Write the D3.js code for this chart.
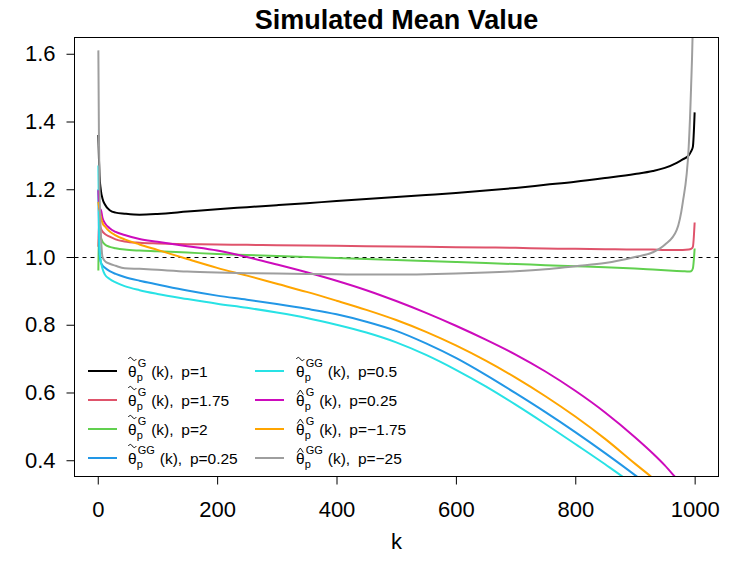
<!DOCTYPE html>
<html>
<head>
<meta charset="utf-8">
<script src="https://cdn.jsdelivr.net/npm/d3@7"></script>
<style>
  body { margin: 0; background: #fff; }
  svg { font-family: "Liberation Sans", Arial, sans-serif; }
</style>
</head>
<body>
<svg width="747" height="561"></svg>
<script>
var kGrid = [1, 2, 3, 5, 8, 12, 20, 30, 45, 70, 100, 150, 200, 250, 300, 350, 400, 450, 500,
  550, 600, 650, 700, 750, 800, 850, 900, 930, 950, 970, 980, 990, 994, 997, 1000];

// tilde G, p = 1
var tildeG_p1 = [1.36, 1.29, 1.24, 1.20, 1.172, 1.155, 1.138, 1.131, 1.128, 1.125, 1.127, 1.134, 1.141,
  1.147, 1.153, 1.159, 1.165, 1.171, 1.177, 1.183, 1.189, 1.196, 1.204, 1.213, 1.222, 1.233, 1.245,
  1.254, 1.263, 1.278, 1.288, 1.30, 1.312, 1.325, 1.427];
// tilde G, p = 1.75
var tildeG_p175 = [1.03, 1.10, 1.095, 1.085, 1.075, 1.068, 1.06, 1.052, 1.046, 1.042, 1.040, 1.038, 1.037,
  1.036, 1.035, 1.034, 1.033, 1.032, 1.031, 1.030, 1.029, 1.028, 1.027, 1.025, 1.024, 1.023, 1.022,
  1.022, 1.021, 1.021, 1.021, 1.022, 1.024, 1.03, 1.102];
// tilde G, p = 2
var tildeG_p2 = [0.96, 1.08, 1.07, 1.058, 1.045, 1.037, 1.03, 1.026, 1.022, 1.019, 1.017, 1.013, 1.009,
  1.006, 1.003, 1.000, 0.997, 0.994, 0.991, 0.988, 0.985, 0.982, 0.979, 0.976, 0.973, 0.970, 0.966,
  0.963, 0.961, 0.959, 0.958, 0.957, 0.958, 0.966, 1.025];
// tilde GG, p = 0.25
var tildeGG_p025 = [1.20, 1.06, 1.01, 0.985, 0.975, 0.968, 0.958, 0.95, 0.941, 0.93, 0.919, 0.901, 0.886,
  0.874, 0.861, 0.847, 0.831, 0.809, 0.782, 0.745, 0.702, 0.652, 0.598, 0.542, 0.483, 0.421, 0.356,
  0.315, 0.285, 0.255, 0.24, 0.225, 0.215, 0.205, 0.195];
// tilde GG, p = 0.5
var tildeGG_p05 = [1.27, 1.12, 1.03, 0.99, 0.965, 0.948, 0.935, 0.925, 0.914, 0.902, 0.891, 0.876, 0.862,
  0.85, 0.836, 0.82, 0.80, 0.777, 0.748, 0.711, 0.667, 0.618, 0.564, 0.507, 0.448, 0.388, 0.324,
  0.28, 0.25, 0.22, 0.21, 0.20, 0.19, 0.18, 0.17];
// hat G, p = 0.25
var hatG_p025 = [1.197, 1.16, 1.14, 1.14, 1.115, 1.10, 1.085, 1.074, 1.065, 1.053, 1.045, 1.032, 1.019,
  1.0, 0.978, 0.955, 0.930, 0.902, 0.870, 0.835, 0.797, 0.756, 0.712, 0.662, 0.605, 0.541, 0.468,
  0.42, 0.385, 0.345, 0.325, 0.305, 0.295, 0.285, 0.275];
// hat G, p = -1.75
var hatG_m175 = [1.163, 1.15, 1.14, 1.12, 1.10, 1.09, 1.075, 1.064, 1.052, 1.037, 1.021, 0.994, 0.968,
  0.945, 0.921, 0.897, 0.871, 0.844, 0.814, 0.779, 0.739, 0.694, 0.644, 0.589, 0.529, 0.463, 0.39,
  0.347, 0.315, 0.285, 0.27, 0.255, 0.245, 0.235, 0.225];
// hat GG, p = -25
var hatGG_m25 = [1.61, 1.35, 1.20, 1.08, 1.00, 0.988, 0.98, 0.974, 0.967, 0.965, 0.962, 0.957, 0.954,
  0.952, 0.951, 0.950, 0.949, 0.948, 0.948, 0.949, 0.951, 0.954, 0.958, 0.964, 0.973, 0.982, 1.0,
  1.014, 1.036, 1.08, 1.16, 1.324, 1.50, 1.70, 2.2];

var seriesValues = [tildeG_p1, tildeG_p175, tildeG_p2, tildeGG_p025, tildeGG_p05, hatG_p025, hatG_m175, hatGG_m25];
var seriesColors = ["#000000", "#DF536B", "#61D04F", "#2297E6", "#28E2E5", "#CD0BBC", "#FFA500", "#9E9E9E"];
var legendAccent = ["tilde", "tilde", "tilde", "tilde", "tilde", "hat", "hat", "hat"];
var legendSup = ["G", "G", "G", "GG", "GG", "G", "G", "GG"];
var legendP = ["1", "1.75", "2", "0.25", "0.5", "0.25", "\u22121.75", "\u221225"];
var yTicks = [0.4, 0.6, 0.8, 1.0, 1.2, 1.4, 1.6];
var xTicks = [0, 200, 400, 600, 800, 1000];

var svg = d3.select("svg");
var L = 74.5, R = 718.5, T = 37.5, B = 476.5;

// R style 4% padding
var xPad = 0.04 * (1000 - 1), yPad = 0.04 * (1.6 - 0.4);
var x = d3.scaleLinear().domain([1 - xPad, 1000 + xPad]).range([L, R]);
var y = d3.scaleLinear().domain([0.4 - yPad, 1.6 + yPad]).range([B, T]);

svg.append("defs").append("clipPath").attr("id", "plotclip")
  .append("rect").attr("x", L).attr("y", T).attr("width", R - L).attr("height", B - T);

// reference line at 1
svg.append("line")
  .attr("x1", L).attr("x2", R).attr("y1", Math.round(y(1)) + 0.5).attr("y2", Math.round(y(1)) + 0.5)
  .style("stroke", "#000").style("stroke-width", 1).style("stroke-dasharray", "4,4");

var line = d3.line()
  .x(function(d) { return x(d[0]); })
  .y(function(d) { return y(d[1]); })
  .curve(d3.curveMonotoneX);

var plot = svg.append("g").attr("clip-path", "url(#plotclip)");
seriesValues.forEach(function(vals, i) {
  plot.append("path")
    .datum(kGrid.map(function(k, j) { return [k, vals[j]]; }))
    .attr("d", line)
    .style("fill", "none")
    .style("stroke", seriesColors[i])
    .style("stroke-width", 2)
    .style("stroke-linejoin", "round");
});

// box
svg.append("rect").attr("x", L).attr("y", T).attr("width", R - L).attr("height", B - T)
  .style("fill", "none").style("stroke", "#000").style("stroke-width", 1);

// axes
var yAxis = svg.append("g").attr("transform", "translate(" + L + ",0)")
  .call(d3.axisLeft(y).tickValues(yTicks).tickFormat(d3.format(".1f")).tickSize(8).tickPadding(11));
var xAxis = svg.append("g").attr("transform", "translate(0," + B + ")")
  .call(d3.axisBottom(x).tickValues(xTicks).tickFormat(d3.format("d")).tickSize(8).tickPadding(17));
[yAxis, xAxis].forEach(function(a) {
  a.select(".domain").remove();
  a.selectAll("line").style("stroke", "#000");
  a.selectAll("text").style("font-size", "22px").style("fill", "#000")
    .style("font-family", "'Liberation Sans', Arial, sans-serif");
});

// title and axis label
svg.append("text").attr("x", (L + R) / 2).attr("y", 29).attr("text-anchor", "middle")
  .style("font-size", "27px").style("font-weight", "bold").text("Simulated Mean Value");
svg.append("text").attr("x", (L + R) / 2).attr("y", 549).attr("text-anchor", "middle")
  .style("font-size", "22px").text("k");

// legend, two columns, accents drawn as small strokes
var rowY = [371, 400, 429, 458];
var colLine = [[88, 117], [255, 284]];
var colText = [128, 296];
seriesValues.forEach(function(vals, i) {
  var col = i < 4 ? 0 : 1, ry = rowY[i % 4], base = ry + 6;
  svg.append("line").attr("x1", colLine[col][0]).attr("x2", colLine[col][1])
    .attr("y1", ry).attr("y2", ry)
    .style("stroke", seriesColors[i]).style("stroke-width", 2);
  var g = svg.append("g").attr("transform", "translate(" + colText[col] + ",0)");
  var th = g.append("text").attr("x", 0).attr("y", base).style("font-size", "15.5px").text("\u03B8");
  var w = th.node().getComputedTextLength(), cx = w / 2;
  var acc = legendAccent[i] === "tilde"
    ? "M" + (cx - 4) + "," + (base - 18) + " q2,-3.2 4,0 t4,0"
    : "M" + (cx - 3) + "," + (base - 11.5) + " L" + cx + "," + (base - 16) + " L" + (cx + 3) + "," + (base - 11.5);
  g.append("path").attr("d", acc).style("fill", "none").style("stroke", "#000").style("stroke-width", 0.9);
  var sub = g.append("text").attr("x", w).attr("y", base + 4).style("font-size", "11px").text("p");
  var sup = g.append("text").attr("x", w + 1).attr("y", base - 10).style("font-size", "11px").text(legendSup[i]);
  var mw = Math.max(sub.node().getComputedTextLength(), sup.node().getComputedTextLength() + 1);
  g.append("text").attr("x", w + mw + 5).attr("y", base).style("font-size", "15.5px")
    .text("(k),\u2002p=" + legendP[i]);
});
</script>
</body>
</html>
